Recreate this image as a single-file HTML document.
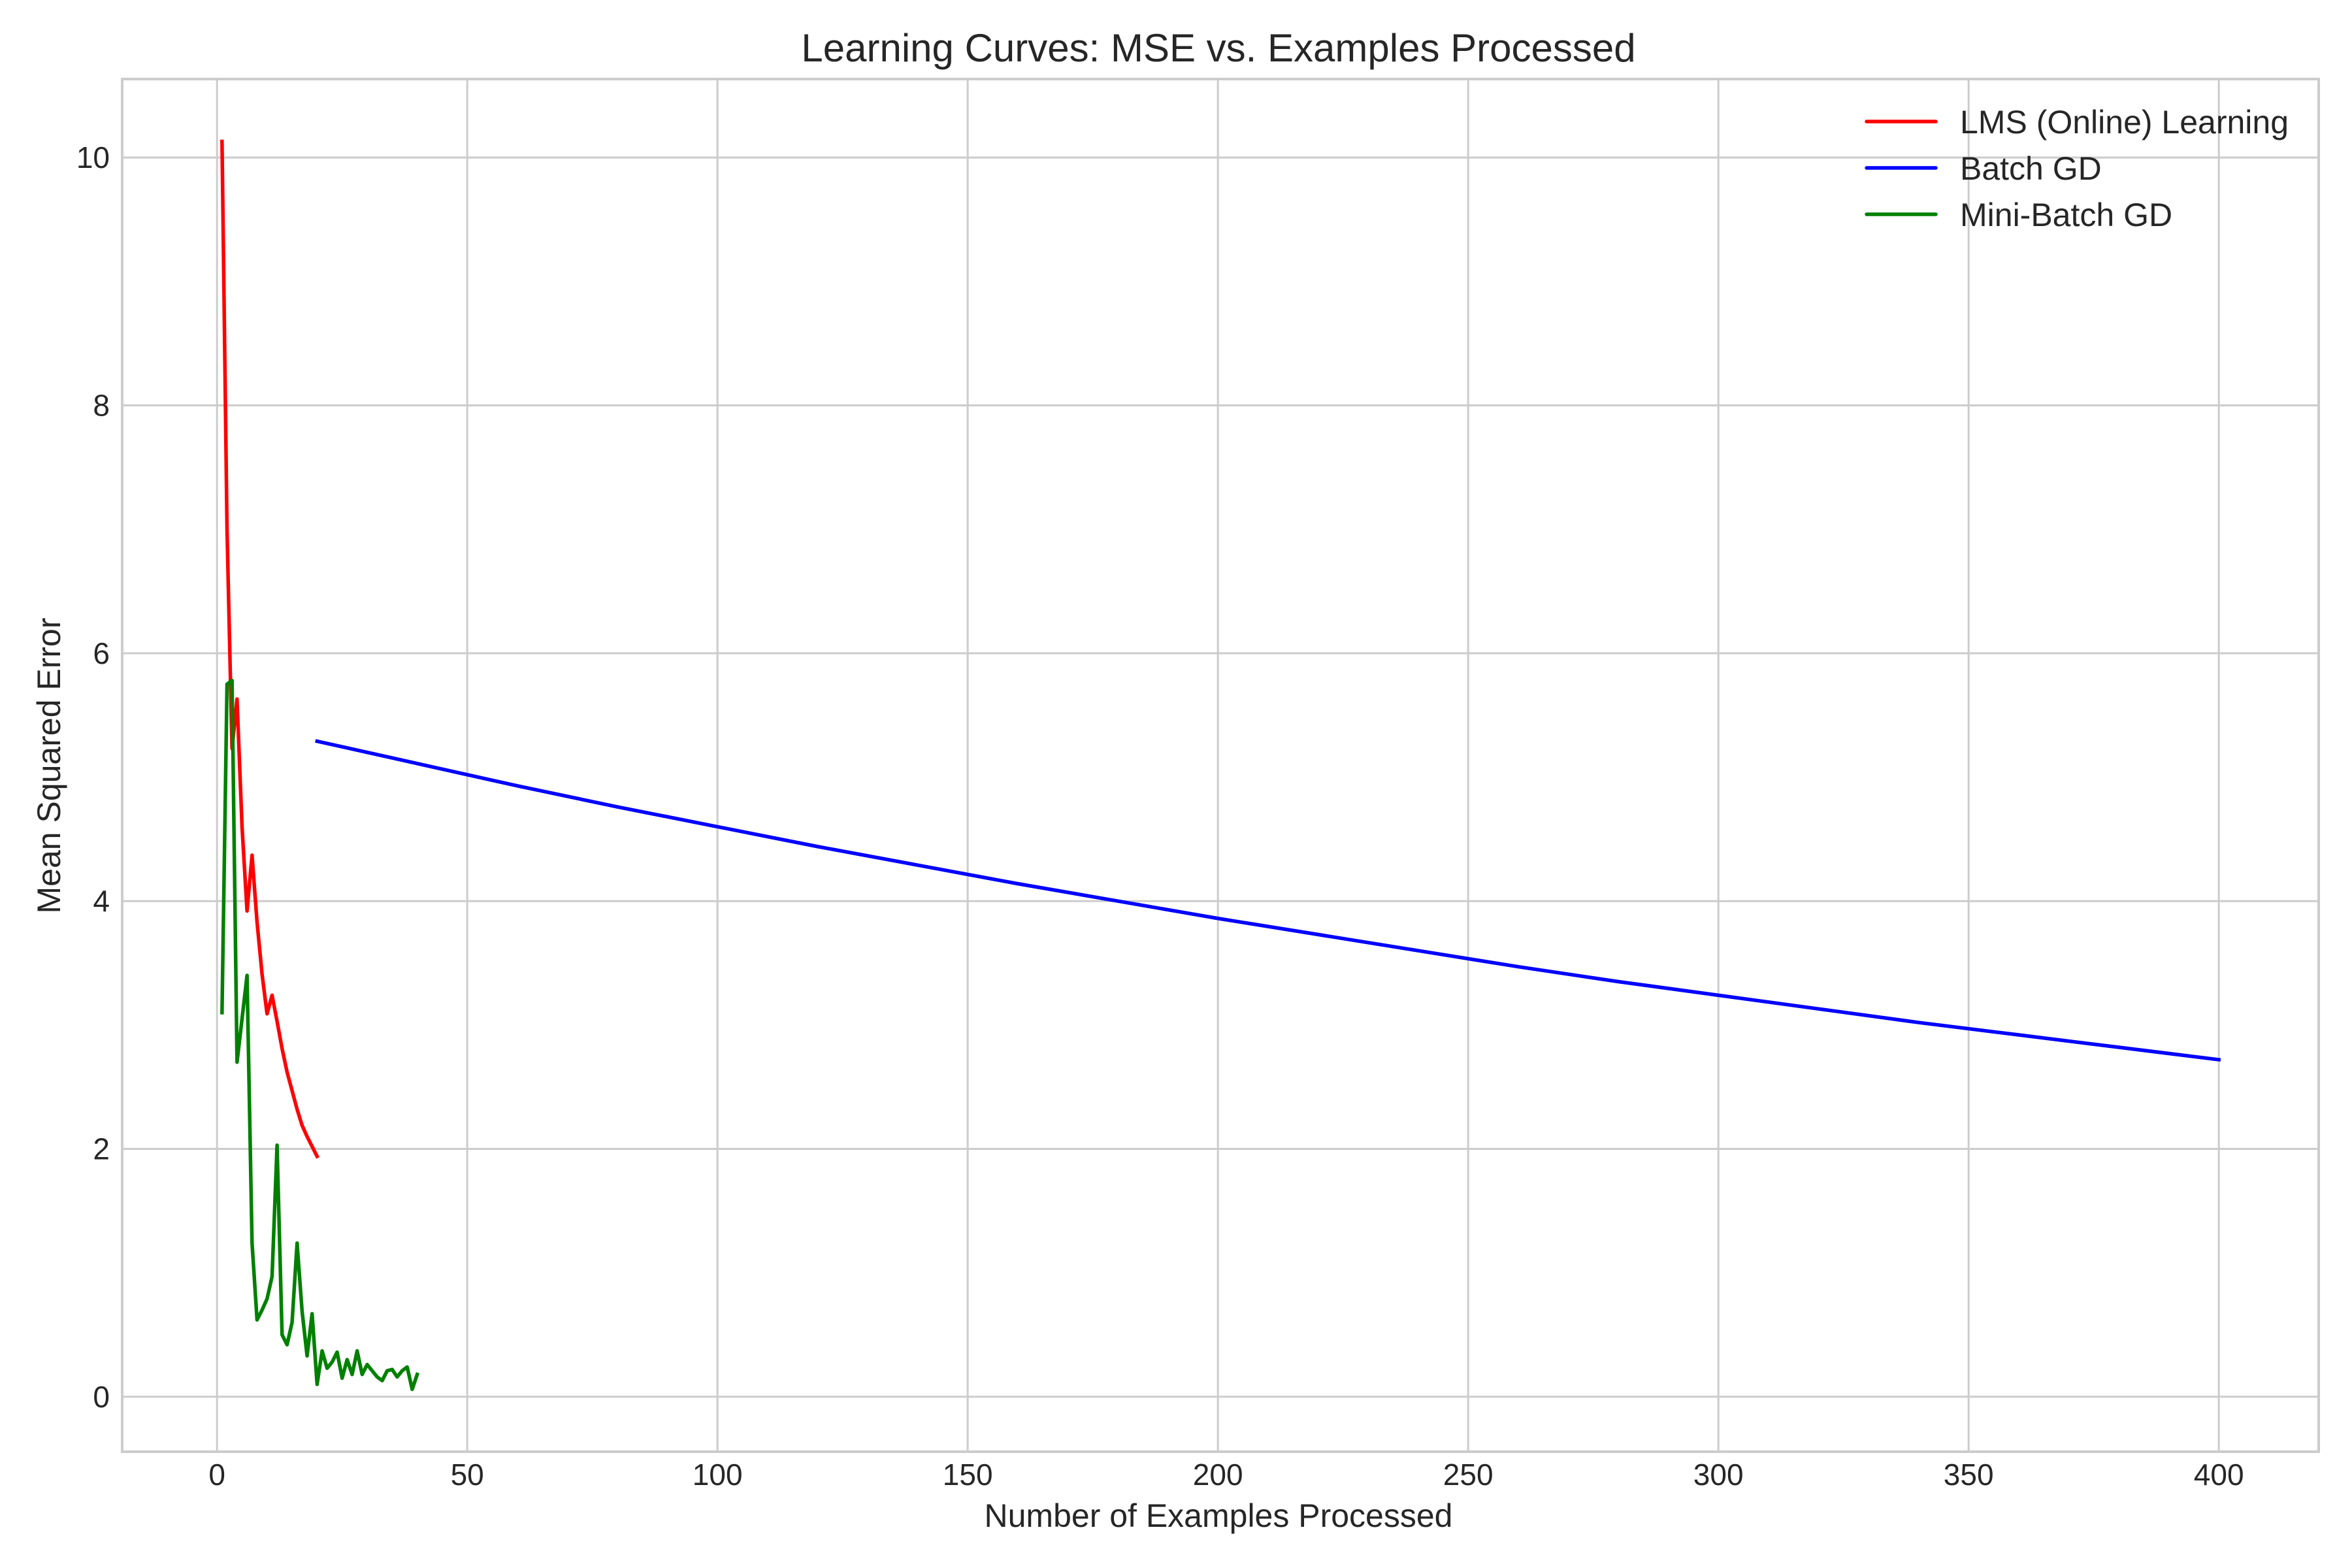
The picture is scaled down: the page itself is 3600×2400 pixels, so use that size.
<!DOCTYPE html>
<html>
<head>
<meta charset="utf-8">
<style>
  html,body{margin:0;padding:0;background:#fff;}
  svg{display:block;}
  text{font-family:"Liberation Sans",Arial,sans-serif;fill:#262626;}
</style>
</head>
<body>
<svg id="chart" width="3600" height="2400" viewBox="0 0 3600 2400" xmlns="http://www.w3.org/2000/svg">
  <rect x="0" y="0" width="3600" height="2400" fill="#ffffff"/>
  <g id="grid"></g>
  <g id="series"></g>
  <rect id="frame" fill="none" stroke="#cccccc" stroke-width="4"/>
  <g id="ticks"></g>
  <text x="1865" y="94" font-size="60" text-anchor="middle">Learning Curves: MSE vs. Examples Processed</text>
  <text x="1865" y="2337" font-size="50" text-anchor="middle">Number of Examples Processed</text>
  <text x="0" y="0" font-size="50" text-anchor="middle" transform="translate(92,1172) rotate(-90)">Mean Squared Error</text>
  <g id="legend"></g>
</svg>
<script>
// ---- data ----
const lmsX = [1,2,3,4,5,6,7,8,9,10,11,12,13,14,15,16,17,18,19,20];
const lmsY = [10.13,7.0,5.23,5.63,4.6,3.92,4.37,3.83,3.41,3.09,3.24,3.03,2.81,2.62,2.47,2.32,2.19,2.10,2.02,1.94];
const batchX = [20,40,60,80,100,120,140,160,180,200,220,240,260,280,300,320,340,360,380,400];
const batchY = [5.29,5.11,4.93,4.76,4.60,4.44,4.29,4.14,4.00,3.86,3.73,3.60,3.47,3.35,3.24,3.13,3.02,2.92,2.82,2.72];
const miniX = [1,2,3,4,5,6,7,8,9,10,11,12,13,14,15,16,17,18,19,20,21,22,23,24,25,26,27,28,29,30,31,32,33,34,35,36,37,38,39,40];
const miniY = [3.10,5.75,5.78,2.70,3.05,3.40,1.24,0.62,0.70,0.79,0.97,2.03,0.50,0.42,0.60,1.24,0.69,0.33,0.67,0.10,0.37,0.23,0.28,0.36,0.15,0.30,0.18,0.37,0.18,0.26,0.21,0.16,0.13,0.21,0.22,0.16,0.21,0.24,0.06,0.18];
const xTicks = [0,50,100,150,200,250,300,350,400];
const yTicks = [0,2,4,6,8,10];
const seriesNames = ["LMS (Online) Learning","Batch GD","Mini-Batch GD"];
const seriesColors = ["#ff0000","#0000ff","#008000"];

// ---- axes ----
const AX = {left:187, right:3549, top:121, bottom:2222};
const XMIN = -18.95, XMAX = 419.95, YMIN = -0.4435, YMAX = 10.6335;
function sx(v){ return AX.left + (v - XMIN) / (XMAX - XMIN) * (AX.right - AX.left); }
function sy(v){ return AX.bottom - (v - YMIN) / (YMAX - YMIN) * (AX.bottom - AX.top); }

const NS = "http://www.w3.org/2000/svg";
function mk(tag, attrs){ const e = document.createElementNS(NS, tag); for (const k in attrs) e.setAttribute(k, attrs[k]); return e; }

const frame = document.getElementById('frame');
frame.setAttribute('x', AX.left); frame.setAttribute('y', AX.top);
frame.setAttribute('width', AX.right - AX.left); frame.setAttribute('height', AX.bottom - AX.top);

const grid = document.getElementById('grid');
const ticks = document.getElementById('ticks');
xTicks.forEach(t => {
  const l = mk('line', {x1:sx(t), x2:sx(t), y1:AX.top, y2:AX.bottom, stroke:'#cccccc', 'stroke-width':3});
  
  
  grid.appendChild(l);
  const tx = mk('text', {x:sx(t), y:2273, 'font-size':46, 'text-anchor':'middle'});
  tx.textContent = t;
  
  
  ticks.appendChild(tx);
});
yTicks.forEach(t => {
  const l = mk('line', {x1:AX.left, x2:AX.right, y1:sy(t), y2:sy(t), stroke:'#cccccc', 'stroke-width':3});
  
  
  grid.appendChild(l);
  const tx = mk('text', {x:168, y:sy(t) + 16, 'font-size':46, 'text-anchor':'end'});
  tx.textContent = t;
  
  
  ticks.appendChild(tx);
});

const series = document.getElementById('series');
function drawLine(xs, ys, color, name){
  const pts = xs.map((x,i) => sx(x).toFixed(2) + ',' + sy(ys[i]).toFixed(2)).join(' ');
  const p = mk('polyline', {points:pts, fill:'none', stroke:color, 'stroke-width':5.5, 'stroke-linejoin':'round', 'stroke-linecap':'square'});
  
  
  series.appendChild(p);
}
drawLine(lmsX, lmsY, seriesColors[0], 'lms-online-line');
drawLine(batchX, batchY, seriesColors[1], 'batch-gd-line');
drawLine(miniX, miniY, seriesColors[2], 'mini-batch-gd-line');

const legend = document.getElementById('legend');
seriesNames.forEach((n, i) => {
  const y = 186 + i * 71;
  const l = mk('line', {x1:2857, x2:2963, y1:y, y2:y, stroke:seriesColors[i], 'stroke-width':5.5, 'stroke-linecap':'round'});
  
  
  legend.appendChild(l);
  const t = mk('text', {x:3000, y:y + 18, 'font-size':50});
  t.textContent = n;
  
  
  legend.appendChild(t);
});
</script>
</body>
</html>
